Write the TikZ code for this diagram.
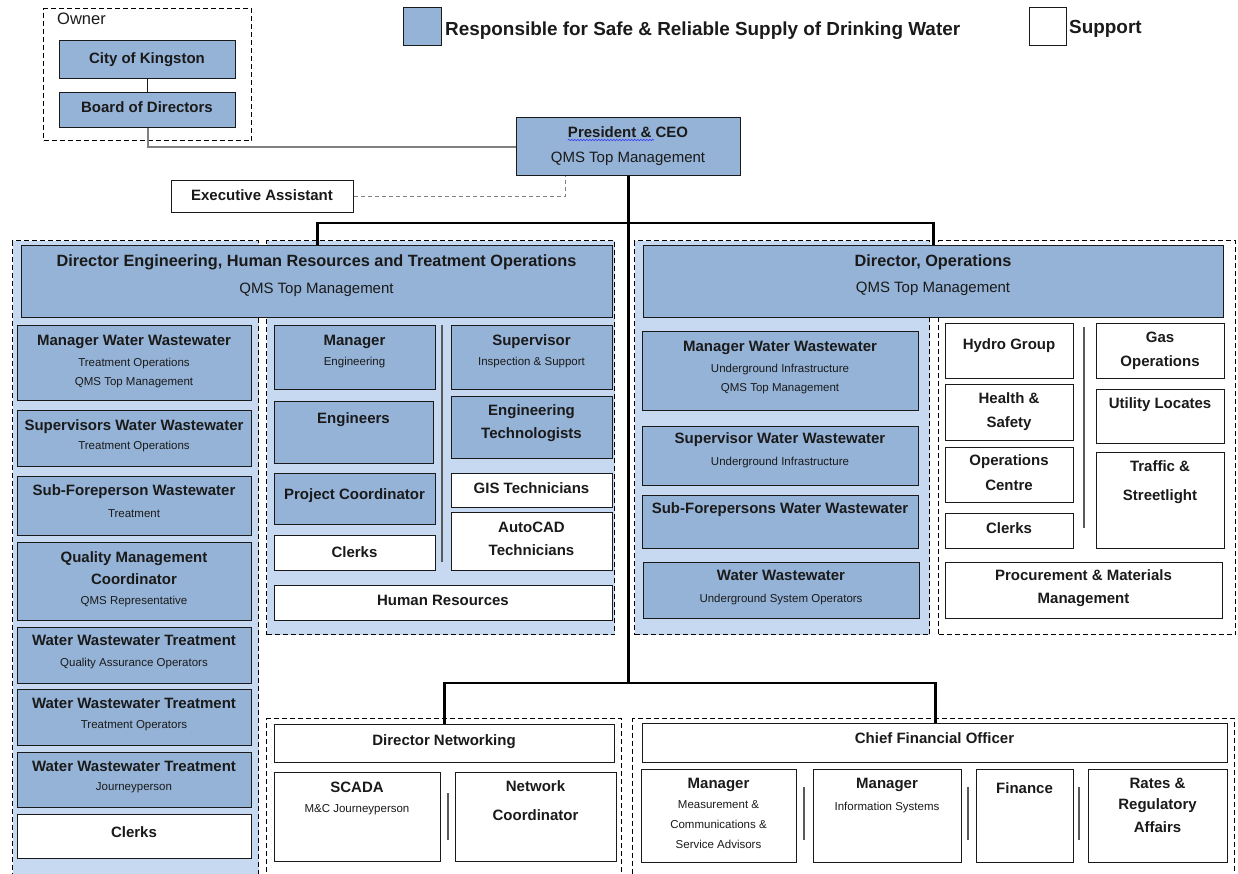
\documentclass[tikz,border=0pt]{standalone}
\usepackage{fontspec}
\setmainfont{Liberation Sans}
\usetikzlibrary{calc,decorations.pathmorphing}
\definecolor{boxblue}{HTML}{95B3D7}
\definecolor{panelblue}{HTML}{C6D9F1}
\definecolor{ink}{HTML}{1A1A1A}
\newcommand\fB{\fontsize{15}{18}\selectfont\bfseries}
\newcommand\fD{\fontsize{16.3}{19}\selectfont\bfseries}
\newcommand\fQ{\fontsize{15}{18}\selectfont}
\newcommand\fS{\fontsize{11.5}{14}\selectfont}
\newcommand\fL{\fontsize{18.9}{22}\selectfont\bfseries}
\newcommand\fO{\fontsize{16.5}{20}\selectfont}
\tikzset{
  bluebox/.style={draw=ink, line width=1.4pt, fill=boxblue},
  whitebox/.style={draw=ink, line width=1.4pt, fill=white},
  panelb/.style={draw=black, line width=1.3pt, dash pattern=on 5pt off 3pt, fill=panelblue},
  panelw/.style={draw=black, line width=1.3pt, dash pattern=on 5pt off 3pt, fill=white},
  txt/.style={inner sep=0pt, text=ink},
  trunk/.style={line width=2.8pt, draw=black},
  thinc/.style={line width=1.4pt, draw=ink},
  grayc/.style={line width=1.6pt, draw=black!50},
  grayd/.style={line width=1.4pt, draw=black!50, dash pattern=on 4pt off 3pt},
  sepline/.style={line width=1.3pt, draw=black!65},
}
% box: name, style, x1, y1, x2, y2, list of baseline/font/text
\newcommand\bx[7]{%
  \node[#2, anchor=north west, inner sep=0pt, minimum width={(#5-#3)*1pt}, minimum height={(#6-#4)*1pt}] (#1) at (#3,#4) {};
  \foreach \by/\fs/\tx [count=\k] in {#7}{\node[txt, anchor=base] (#1-\k) at ({(#3+#5)/2},\by) {\fs\tx};}%
}
\newcommand\pn[6]{%
  \node[#2, anchor=north west, inner sep=0pt, minimum width={(#5-#3)*1pt}, minimum height={(#6-#4)*1pt}] (#1) at (#3,#4) {};%
}
\begin{document}
\begin{tikzpicture}[x=1pt,y=-1pt]
\useasboundingbox (0,0) rectangle (1238,873);
\clip (0,0) rectangle (1238,873);
% panels
\pn{ownerp}{panelw}{43}{8}{251}{140}
\node[txt, anchor=base west] (ownerlbl) at (57,24) {\fO Owner};
\pn{leftp}{panelb}{12}{240}{258}{900}
\pn{midp}{panelb}{266}{240}{614}{634}
\pn{opsp}{panelb}{634}{240}{929}{634}
\pn{rightp}{panelw}{938}{240}{1235}{634}
\pn{netp}{panelw}{266}{718}{621}{900}
\pn{cfop}{panelw}{632}{718}{1234}{900}
% legend
\pn{legb}{bluebox}{403}{7}{441}{45}
\node[txt, anchor=base west] (legbt) at (445,35) {\fL Responsible for Safe \& Reliable Supply of Drinking Water};
\pn{legw}{whitebox}{1029}{7}{1066}{45}
\node[txt, anchor=base west] (legwt) at (1069,33) {\fL Support};
% top
\bx{city}{bluebox}{59}{40}{235}{78}{63/\fB/City of Kingston}
\bx{board}{bluebox}{59}{92}{235}{127}{112/\fB/Board of Directors}
\bx{pres}{bluebox}{516}{117}{740}{175}{137/\fB/President \& CEO, 162/\fQ/QMS Top Management}
\bx{ea}{whitebox}{171}{180}{353}{212}{200/\fB/Executive Assistant}
\bx{direng}{bluebox}{21}{245}{612}{317}{266/\fD/{Director Engineering, Human Resources and Treatment Operations}, 293/\fQ/QMS Top Management}
\bx{dirops}{bluebox}{643}{245}{1223}{317}{266/\fD/{Director, Operations}, 292/\fQ/QMS Top Management}
% left column
\bx{lmww}{bluebox}{17}{325}{251}{400}{345/\fB/Manager Water Wastewater, 366/\fS/Treatment Operations, 385/\fS/QMS Top Management}
\bx{lsww}{bluebox}{17}{410}{251}{466}{430/\fB/Supervisors Water Wastewater, 449/\fS/Treatment Operations}
\bx{lsfw}{bluebox}{17}{476}{251}{535}{495/\fB/Sub-Foreperson Wastewater, 517/\fS/Treatment}
\bx{lqmc}{bluebox}{17}{542}{251}{620}{562/\fB/Quality Management, 584/\fB/Coordinator, 604/\fS/QMS Representative}
\bx{lqa}{bluebox}{17}{627}{251}{683}{645/\fB/Water Wastewater Treatment, 666/\fS/Quality Assurance Operators}
\bx{lto}{bluebox}{17}{689}{251}{745}{708/\fB/Water Wastewater Treatment, 728/\fS/Treatment Operators}
\bx{ljp}{bluebox}{17}{752}{251}{807}{771/\fB/Water Wastewater Treatment, 790/\fS/Journeyperson}
\bx{lclk}{whitebox}{17}{814}{251}{858}{837/\fB/Clerks}
% middle column
\bx{meng}{bluebox}{274}{325}{435}{389}{345/\fB/Manager, 365/\fS/Engineering}
\bx{mengs}{bluebox}{274}{401}{433}{463}{423/\fB/Engineers}
\bx{mpc}{bluebox}{274}{473}{435}{524}{499/\fB/Project Coordinator}
\bx{mclk}{whitebox}{274}{535}{435}{570}{557/\fB/Clerks}
\bx{msup}{bluebox}{451}{325}{612}{389}{345/\fB/Supervisor, 365/\fS/Inspection \& Support}
\bx{mtech}{bluebox}{451}{396}{612}{458}{415/\fB/Engineering, 438/\fB/Technologists}
\bx{mgis}{whitebox}{451}{473}{612}{507}{493/\fB/GIS Technicians}
\bx{macad}{whitebox}{451}{512}{612}{570}{532/\fB/AutoCAD, 555/\fB/Technicians}
\bx{mhr}{whitebox}{274}{585}{612}{620}{605/\fB/Human Resources}
% operations
\bx{omww}{bluebox}{642}{331}{918}{410}{351/\fB/Manager Water Wastewater, 372/\fS/Underground Infrastructure, 391/\fS/QMS Top Management}
\bx{osww}{bluebox}{642}{426}{918}{485}{443/\fB/Supervisor Water Wastewater, 465/\fS/Underground Infrastructure}
\bx{osfw}{bluebox}{642}{495}{918}{548}{513/\fB/Sub-Forepersons Water Wastewater}
\bx{oww}{bluebox}{643}{562}{919}{618}{580/\fB/Water Wastewater, 602/\fS/Underground System Operators}
% support column
\bx{whydro}{whitebox}{945}{323}{1073}{378}{349/\fB/Hydro Group}
\bx{whs}{whitebox}{945}{384}{1073}{440}{403/\fB/Health \&, 427/\fB/Safety}
\bx{woc}{whitebox}{945}{447}{1073}{502}{465/\fB/Operations, 490/\fB/Centre}
\bx{wclk}{whitebox}{945}{513}{1073}{548}{533/\fB/Clerks}
\bx{wgas}{whitebox}{1096}{323}{1224}{378}{342/\fB/Gas, 366/\fB/Operations}
\bx{wul}{whitebox}{1096}{389}{1224}{443}{408/\fB/Utility Locates}
\bx{wts}{whitebox}{1096}{452}{1224}{548}{471/\fB/Traffic \&, 500/\fB/Streetlight}
\bx{wpm}{whitebox}{945}{562}{1222}{618}{580/\fB/Procurement \& Materials, 603/\fB/Management}
% bottom
\bx{netw}{whitebox}{274}{724}{614}{762}{745/\fB/Director Networking}
\bx{scada}{whitebox}{274}{772}{440}{861}{792/\fB/SCADA, 812/\fS/M\&C Journeyperson}
\bx{ncoord}{whitebox}{455}{772}{616}{861}{791/\fB/Network, 820/\fB/Coordinator}
\bx{cfo}{whitebox}{642}{723}{1227}{762}{743/\fB/Chief Financial Officer}
\bx{mmcs}{whitebox}{641}{769}{796}{862}{788/\fB/Manager, 808/\fS/Measurement \&, 828/\fS/Communications \&, 848/\fS/Service Advisors}
\bx{mis}{whitebox}{813}{769}{961}{862}{788/\fB/Manager, 810/\fS/Information Systems}
\bx{fin}{whitebox}{976}{769}{1073}{862}{793/\fB/Finance}
\bx{rates}{whitebox}{1088}{769}{1227}{862}{788/\fB/Rates \&, 809/\fB/Regulatory, 832/\fB/Affairs}
% separators
\draw[sepline] (442,325) -- (442,562);
\draw[sepline] (1084,327) -- (1084,528);
\draw[sepline] (448,793) -- (448,840);
\draw[sepline] (804,787) -- (804,840);
\draw[sepline] (968,787) -- (968,840);
\draw[sepline] (1079,787) -- (1079,840);
% spell-check underline
\draw[blue!80, line width=0.6pt, decorate, decoration={snake, amplitude=0.7pt, segment length=3pt}] ([yshift=-3pt]pres-1.base west) -- ++(86,0);
% connectors
\draw[thinc] (city.south) -- (board.north);
\draw[grayc] (board.south) |- (pres.west);
\draw[grayd] (ea.east) -| ([xshift=-63pt]pres.south);
\draw[trunk] (direng.north) -- ++(0,-22) -| (dirops.north);
\draw[trunk] (netw.north) -- ++(0,-41) coordinate (nbus) -| (cfo.north);
\draw[trunk] (pres.south) -- (pres.south |- nbus);
\end{tikzpicture}
\end{document}
